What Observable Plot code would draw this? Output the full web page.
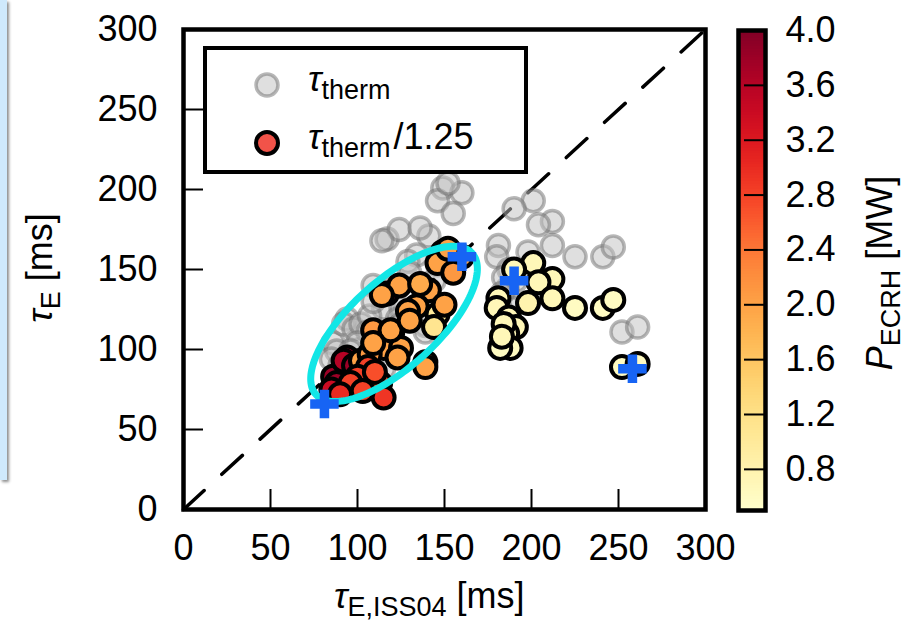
<!DOCTYPE html>
<html><head><meta charset="utf-8">
<script src="https://cdn.jsdelivr.net/npm/d3@7"></script>
<script src="https://cdn.jsdelivr.net/npm/@observablehq/plot@0.6"></script>
<style>
body{margin:0;background:#fff;}
#wrap{position:relative;width:912px;height:623px;overflow:hidden;background:#fff;font-family:"Liberation Sans",Arial,sans-serif;color:#000}
#wrap svg{position:absolute;top:0}
.strip{position:absolute;left:0;top:0;width:7px;height:480px;background:#cfe9fc;box-shadow:2px 2px 3px rgba(0,0,0,0.45)}
.ttl{position:absolute;white-space:nowrap;font-size:36px;line-height:1}
.ttl .g{font-style:italic}
.ttl sub{font-size:27px;vertical-align:-0.28em;line-height:0}
.legend{position:absolute;left:203px;top:46px;width:317px;height:120px;border:4px solid #000;background:#fff}
.legend .row{position:absolute;left:0;height:40px;display:flex;align-items:center}
</style></head><body><div id="wrap"></div>
<script>
// ---- data ----
const tauISS = [
  86, 88, 94, 117, 92, 98, 85,
  146, 144,
  149, 160, 146, 155, 124, 114, 141, 136, 134, 129, 120, 109, 115, 125, 139, 102, 107, 119, 109, 123, 139, 130, 150, 152,
  106, 100, 96, 113, 90, 103, 115, 110,
  201, 212, 204, 198, 212, 225, 241, 247, 181, 180, 187, 191, 186, 188, 182, 190, 252, 261, 184, 183
];
const tauTherm = [
  104, 99, 119, 169, 116, 113, 94,
  153, 143,
  201, 198, 193, 185, 175, 168, 171, 176, 159, 155, 139, 140, 126, 126, 115, 116, 121, 140, 130, 119, 111, 148, 160, 204,
  111, 104, 99, 99, 90, 93, 88, 108,
  193, 180, 178, 161, 165, 158, 158, 164, 165, 158, 150, 143, 138, 126, 126, 188, 111, 114, 145, 135
];
const tauThermScaled = [
  83, 79, 95, 135, 93, 90, 75,
  122, 114,
  161, 158, 154, 148, 140, 134, 137, 141, 127, 124, 111, 112, 101, 101, 92, 93, 97, 112, 104, 95, 89, 118, 128, 163,
  89, 83, 79, 79, 72, 74, 70, 86,
  154, 144, 142, 129, 132, 126, 126, 131, 132, 126, 120, 114, 110, 101, 101, 150, 89, 91, 116, 108
];
const pECRH = [
  3.8, 3.8, 3.8, 3.8, 3.6, 3.8, 3.4,
  1.0, 1.1,
  2.0, 2.0, 2.0, 2.1, 2.0, 2.0, 2.0, 1.9, 2.0, 2.0, 2.0, 2.1, 2.0, 2.0, 2.0, 2.0, 2.1, 2.0, 2.0, 2.0, 2.0, 2.0, 2.0, 2.0,
  2.8, 2.8, 2.8, 2.7, 3.0, 2.8, 2.9, 2.7,
  0.7, 0.7, 0.7, 0.8, 0.7, 0.6, 0.6, 0.6, 0.7, 0.7, 0.7, 0.7, 0.7, 0.6, 0.6, 0.7, 0.6, 0.6, 0.7, 0.7
];
const crossX = [81, 160, 190, 258];
const crossY = [66, 158, 143, 88];
const diagonal = [0, 300];
const xTicks = [0, 50, 100, 150, 200, 250, 300];
const yTicks = [0, 50, 100, 150, 200, 250, 300];
const cbTicks = [0.8, 1.2, 1.6, 2.0, 2.4, 2.8, 3.2, 3.6, 4.0];
const cbDomain = [0.5, 4.0];
// highlighted region (ellipse in data units)
const ellCx = 121, ellCy = 116, ellA = 63, ellB = 26, ellAngle = 45.5;

// ---- build ----
const points = tauISS.map((x, i) => ({x, gray: tauTherm[i], scaled: tauThermScaled[i], p: pECRH[i]}));
const crosses = crossX.map((x, i) => ({x, y: crossY[i]}));
const phi = ellAngle * Math.PI / 180;
const ellipse = d3.range(0, 2 * Math.PI, Math.PI / 90).map(t => ({
  x: ellCx + ellA * Math.cos(t) * Math.cos(phi) - ellB * Math.sin(t) * Math.sin(phi),
  y: ellCy + ellA * Math.cos(t) * Math.sin(phi) + ellB * Math.sin(t) * Math.cos(phi)
}));
const font = "Liberation Sans, Arial, sans-serif";

const main = Plot.plot({
  width: 912, height: 623,
  marginLeft: 183, marginRight: 207, marginTop: 29, marginBottom: 114,
  style: {fontFamily: font, fontSize: "36px", background: "transparent", color: "#000", overflow: "visible"},
  x: {domain: [0, 300]},
  y: {domain: [0, 300]},
  color: {type: "linear", scheme: "YlOrRd", domain: cbDomain},
  marks: [
    Plot.line(diagonal, {x: d => d, y: d => d, stroke: "#000", strokeWidth: 3.5, strokeDasharray: "28,24"}),
    Plot.dot(points, {x: "x", y: "gray", r: 11, fill: "#c0c0c0", fillOpacity: 0.5, stroke: "#707070", strokeOpacity: 0.5, strokeWidth: 3.5}),
    Plot.dot(points, {x: "x", y: "scaled", r: 11, fill: "p", stroke: "#000", strokeWidth: 4}),
    Plot.line(ellipse, {x: "x", y: "y", stroke: "#12e6e6", strokeWidth: 7, curve: "linear-closed"}),
    Plot.dot(crosses, {x: "x", y: "y", symbol: "cross", r: 12, fill: "#1764f4", stroke: null}),
    Plot.axisX({ticks: xTicks, tickSize: -20, tickPadding: 45, strokeWidth: 2, fontSize: 36, label: null}),
    Plot.axisY({ticks: yTicks, tickSize: -20, tickPadding: 46, strokeWidth: 2, fontSize: 36, label: null}),
    Plot.frame({stroke: "#000", strokeWidth: 4.5})
  ]
});

const steps = d3.range(cbDomain[0], cbDomain[1], 0.02);
const cbar = Plot.plot({
  width: 212, height: 623,
  marginLeft: 38, marginRight: 147, marginTop: 30, marginBottom: 113,
  style: {fontFamily: font, fontSize: "36px", background: "transparent", color: "#000", overflow: "visible"},
  x: {domain: [0, 1], axis: null},
  y: {domain: cbDomain},
  color: {type: "linear", scheme: "YlOrRd", domain: cbDomain},
  marks: [
    Plot.rect(steps, {x1: 0, x2: 1, y1: d => d, y2: d => Math.min(d + 0.025, cbDomain[1]), fill: d => d + 0.01, shapeRendering: "crispEdges"}),
    Plot.axisY({anchor: "right", ticks: cbTicks, tickFormat: d3.format(".1f"), tickSize: -22, tickPadding: 42, strokeWidth: 2, fontSize: 36, label: null}),
    Plot.frame({stroke: "#000", strokeWidth: 4.5})
  ]
});

const wrap = document.getElementById("wrap");
wrap.insertAdjacentHTML("beforeend", '<div class="strip"></div>');
main.style.left = "0px";
wrap.appendChild(main);
cbar.style.left = "700px";
wrap.appendChild(cbar);

// legend
wrap.insertAdjacentHTML("beforeend", `
<div class="legend">
  <div class="row" style="top:15px">
    <svg width="120" height="40" style="position:relative"><circle cx="60" cy="20" r="11" fill="#c0c0c0" fill-opacity="0.5" stroke="#707070" stroke-opacity="0.5" stroke-width="3.5"/></svg>
    <span class="ttl" style="position:relative;left:-19px;top:-6px"><span class="g">τ</span><sub>therm</sub></span>
  </div>
  <div class="row" style="top:73px">
    <svg width="120" height="40" style="position:relative"><circle cx="60" cy="20" r="11" fill="#f25349" stroke="#000" stroke-width="4"/></svg>
    <span class="ttl" style="position:relative;left:-19px;top:-6px"><span class="g">τ</span><sub>therm</sub>&#8202;/1.25</span>
  </div>
</div>`);

// axis titles
wrap.insertAdjacentHTML("beforeend", `
<div class="ttl" style="left:334px;top:578px"><span class="g">τ</span><sub>E,ISS04</sub> [ms]</div>
<div class="ttl" style="left:40px;top:268px;transform:translate(-50%,-50%) rotate(-90deg)"><span class="g">τ</span><sub>E</sub> [ms]</div>
<div class="ttl" style="left:880px;top:273px;transform:translate(-50%,-50%) rotate(-90deg)"><span class="g">P</span><sub>ECRH</sub> [MW]</div>
`);
</script>
</body></html>
